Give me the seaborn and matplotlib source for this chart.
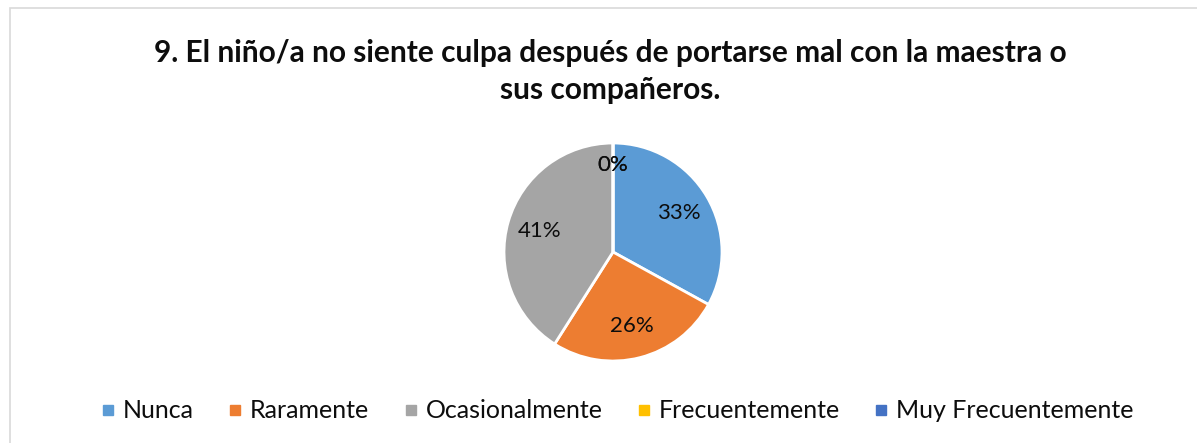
import matplotlib
matplotlib.use("Agg")
import matplotlib.pyplot as plt
import seaborn as sns
import numpy as np
from matplotlib.patches import Rectangle
from matplotlib.lines import Line2D

categories = ["Nunca", "Raramente", "Ocasionalmente", "Frecuentemente", "Muy Frecuentemente"]
values = [33, 26, 41, 0, 0]
colors = ["#5B9BD5", "#ED7D31", "#A5A5A5", "#FFC000", "#4472C4"]
title = "9. El niño/a no siente culpa después de portarse mal con la maestra o\nsus compañeros."

sns.set_theme(style="white")
plt.rcParams['font.family'] = ['Lato', 'DejaVu Sans']

W, H = 1197, 443
fig = plt.figure(figsize=(W / 100, H / 100), dpi=100)

# chart area border
fig.patches.append(Rectangle((10 / W, -0.1), 1.2, 1 - 8 / H + 0.1, transform=fig.transFigure,
                             fill=False, edgecolor="#D9D9D9", linewidth=1.2))

cx, cy, r = 613, 252, 109
ax = fig.add_axes([(cx - r) / W, (H - cy - r) / H, 2 * r / W, 2 * r / H])
wedges, texts, autotexts = ax.pie(values, colors=colors, startangle=90, counterclock=False,
                                  autopct="%1.0f%%", pctdistance=0.7,
                                  wedgeprops=dict(edgecolor="white", linewidth=2),
                                  textprops=dict(fontsize=16, color="#0D0D0D"))
# zero slices: label sits near the rim at the top
for w, t, v in zip(wedges, autotexts, values):
    if v == 0:
        ang = np.deg2rad((w.theta1 + w.theta2) / 2)
        t.set_position((0.8 * np.cos(ang), 0.8 * np.sin(ang)))
ax.set_xlim(-1, 1)
ax.set_ylim(-1, 1)
ax.set_aspect("equal")
ax.axis("off")

fig.text(0.51, 1 - 39 / H, title, ha="center", va="top", fontsize=21.5, fontweight="bold",
         color="#0D0D0D", linespacing=1.38)

handles = [Line2D([], [], marker="s", linestyle="", markersize=7, color=c) for c in colors]
fig.legend(handles, categories, loc="center", bbox_to_anchor=(0.516, 1 - 411 / H), ncol=5,
           frameon=False, fontsize=18, handlelength=0.5, handletextpad=0.35, columnspacing=1.4,
           labelcolor="#0D0D0D")

fig.savefig("out.png", dpi=100)
